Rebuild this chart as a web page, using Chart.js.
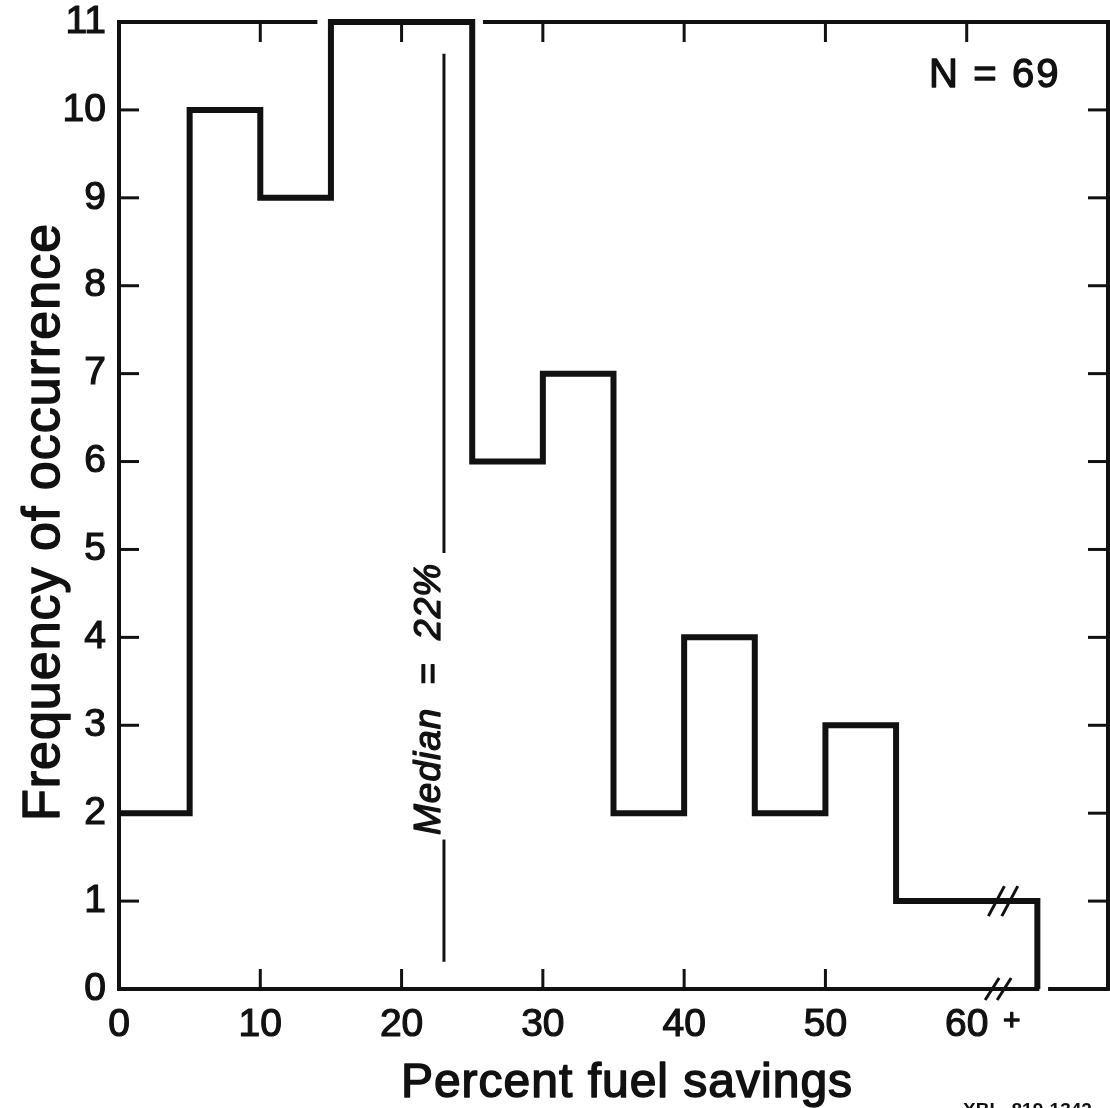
<!DOCTYPE html>
<html>
<head>
<meta charset="utf-8">
<title>Percent fuel savings histogram</title>
<script src="https://cdn.jsdelivr.net/npm/chart.js@4.4.1/dist/chart.umd.min.js"></script>
<style>
  html, body { margin: 0; padding: 0; background: #fff; }
  #wrap { width: 1110px; height: 1108px; }
</style>
</head>
<body>
<div id="wrap"><canvas id="histChart" width="1110" height="1108"></canvas></div>
<script>
// histogram bins (percent fuel savings), left edges + counts
const binStarts = [0, 5, 10, 15, 20, 25, 30, 35, 40, 45, 50, 55, 60];
const counts = [2, 10, 9, 11, 11, 6, 7, 2, 4, 2, 3, 1, 1];
const lastBinEnd = 65;

const xTickValues = [0, 10, 20, 30, 40, 50, 60];
const yTickValues = [0, 1, 2, 3, 4, 5, 6, 7, 8, 9, 10, 11];

const sampleSize = 69;
const medianLabel = 22;   // value printed in the label
const medianLineAt = 23;  // where the line sits on the axis

const FONT = "'Liberation Sans', Arial, Helvetica, sans-serif";
const INK = '#111';

// step points: each bin start, then close at the last edge
const stepPoints = binStarts.map((x, i) => ({ x: x, y: counts[i] }));
stepPoints.push({ x: lastBinEnd, y: 0 });

function line(ctx, x1, y1, x2, y2) {
  ctx.beginPath();
  ctx.moveTo(x1, y1);
  ctx.lineTo(x2, y2);
  ctx.stroke();
}

// filled text with a thin outline, scanned type looks heavier than regular
function heavyText(ctx, txt, x, y, sw) {
  ctx.lineWidth = sw;
  ctx.lineJoin = 'round';
  ctx.strokeText(txt, x, y);
  ctx.fillText(txt, x, y);
}

const framePlugin = {
  id: 'frame',
  afterDraw(chart) {
    const ctx = chart.ctx;
    const xs = chart.scales.x, ys = chart.scales.y;
    const X = v => xs.getPixelForValue(v);
    const Y = v => ys.getPixelForValue(v);
    const top = Y(11), bottom = Y(0), left = X(0), right = X(70);

    ctx.save();
    ctx.strokeStyle = INK;
    ctx.fillStyle = INK;
    ctx.lineCap = 'square';

    // box, with the small gaps next to the histogram outline
    ctx.lineWidth = 4;
    line(ctx, left, top, left, bottom);
    line(ctx, right, top, right, bottom);
    line(ctx, left, top, X(13.9), top);
    line(ctx, X(25.9), top, right, top);
    line(ctx, left, bottom, X(lastBinEnd), bottom);
    line(ctx, X(65.9), bottom, right, bottom);

    // inward tick marks
    ctx.lineWidth = 3;
    ctx.lineCap = 'butt';
    const tl = 20;
    [10, 20, 30, 40, 50].forEach(v => line(ctx, X(v), bottom, X(v), bottom - tl));
    [10, 20, 30, 40, 50, 60].forEach(v => line(ctx, X(v), top, X(v), top + tl));
    yTickValues.filter(v => v > 0 && v < 11).forEach(v => {
      line(ctx, left, Y(v), left + tl, Y(v));
      line(ctx, right, Y(v), right - tl, Y(v));
    });

    // axis break marks
    ctx.lineWidth = 3;
    [62.1, 63.05].forEach(v => line(ctx, X(v) - 8, Y(1) + 15, X(v) + 8, Y(1) - 15));
    [61.8, 62.65].forEach(v => line(ctx, X(v) - 7, bottom + 11, X(v) + 7, bottom - 11));

    // median line with its label in a gap
    ctx.lineWidth = 3;
    line(ctx, X(medianLineAt), Y(10.64), X(medianLineAt), Y(4.96));
    line(ctx, X(medianLineAt), Y(1.7), X(medianLineAt), Y(0.31));
    ctx.save();
    ctx.translate(X(medianLineAt) - 14, Y(3.3));
    ctx.rotate(-Math.PI / 2);
    ctx.font = "italic 37px " + FONT;
    ctx.letterSpacing = '1px';
    ctx.textAlign = 'center';
    ctx.textBaseline = 'middle';
    heavyText(ctx, 'Median  =  ' + medianLabel + '%', 0, 0, 1.3);
    ctx.restore();

    // N = 69
    ctx.font = "40px " + FONT;
    ctx.textBaseline = 'alphabetic';
    ctx.textAlign = 'left';
    heavyText(ctx, 'N', 929, 87, 1.3);
    ctx.textAlign = 'center';
    heavyText(ctx, '=', 985, 87, 1.3);
    ctx.textAlign = 'left';
    ctx.letterSpacing = '2px';
    heavyText(ctx, String(sampleSize), 1012, 87, 1.3);
    ctx.letterSpacing = '0px';

    // "+" after the 60 tick label
    ctx.font = "30px " + FONT;
    ctx.textAlign = 'center';
    ctx.textBaseline = 'middle';
    heavyText(ctx, '+', X(60) + 45, 1022, 1.3);

    // axis titles
    ctx.font = "48px " + FONT;
    ctx.letterSpacing = '1px';
    ctx.textAlign = 'center';
    ctx.textBaseline = 'alphabetic';
    heavyText(ctx, 'Percent fuel savings', 627, 1097, 1.5);

    ctx.save();
    ctx.translate(59, 522);
    ctx.rotate(-Math.PI / 2);
    ctx.font = "52px " + FONT;
    heavyText(ctx, 'Frequency of occurrence', 0, 0, 1.5);
    ctx.restore();
    ctx.letterSpacing = '0px';

    // plate number, cut by the page edge
    ctx.font = "bold 19px " + FONT;
    ctx.textAlign = 'left';
    ctx.textBaseline = 'top';
    ctx.fillText('XBL  819-1342', 963, 1101);

    ctx.restore();
  }
};

new Chart(document.getElementById('histChart'), {
  type: 'line',
  data: {
    datasets: [{
      label: 'Frequency',
      data: stepPoints,
      stepped: 'before',
      borderColor: INK,
      borderWidth: 6,
      borderJoinStyle: 'miter',
      borderCapStyle: 'butt',
      pointRadius: 0,
      fill: false,
      clip: false
    }]
  },
  options: {
    responsive: false,
    animation: false,
    layout: { padding: { top: 22, right: 2, left: 0, bottom: 0 } },
    plugins: {
      legend: { display: false },
      tooltip: { enabled: false }
    },
    scales: {
      x: {
        type: 'linear',
        min: 0,
        max: 70,
        border: { display: false },
        grid: { display: false, drawTicks: false },
        afterBuildTicks: s => { s.ticks = xTickValues.map(v => ({ value: v })); },
        afterFit: s => { s.height = 119; s.paddingLeft = 0; s.paddingRight = 0; },
        ticks: {
          color: INK,
          padding: 17,
          maxRotation: 0,
          textStrokeColor: INK,
          textStrokeWidth: 1.2,
          font: { family: FONT, size: 39, lineHeight: 1 }
        }
      },
      y: {
        min: 0,
        max: 11,
        border: { display: false },
        grid: { display: false, drawTicks: false },
        afterBuildTicks: s => { s.ticks = yTickValues.map(v => ({ value: v })); },
        afterFit: s => { s.width = 119; s.paddingTop = 0; s.paddingBottom = 0; },
        ticks: {
          color: INK,
          padding: 13,
          textStrokeColor: INK,
          textStrokeWidth: 1.2,
          font: { family: FONT, size: 39, lineHeight: 1 }
        }
      }
    }
  },
  plugins: [framePlugin]
});
</script>
</body>
</html>
